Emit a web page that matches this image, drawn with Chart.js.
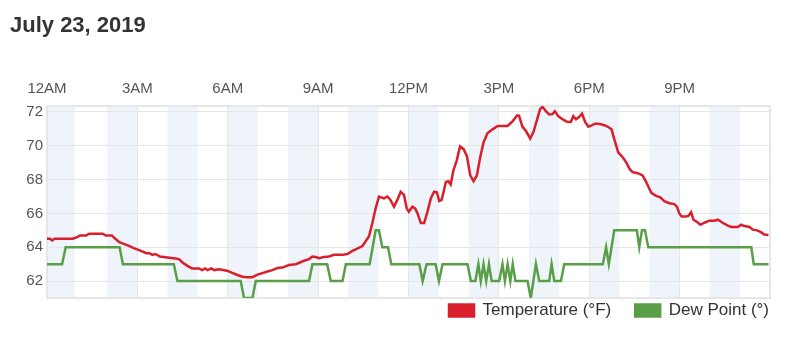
<!DOCTYPE html>
<html>
<head>
<meta charset="utf-8">
<script src="https://cdn.jsdelivr.net/npm/chart.js@4/dist/chart.umd.min.js"></script>
<style>
  html, body { margin: 0; padding: 0; background: #fff; }
  #wrap { position: relative; width: 793px; height: 355px; }
  #title { position: absolute; left: 10px; top: 14px; font: bold 22px "Liberation Sans", Arial, sans-serif; line-height: 22px; color: #333; }
  canvas { position: absolute; left: 0; top: 0; }
</style>
</head>
<body>
<div id="wrap">
  <canvas id="c" width="793" height="355"></canvas>
  <div id="title">July 23, 2019</div>
</div>
<script>
// ---- data (hours since midnight) ----
const seriesLabels = ['Temperature (°F)', 'Dew Point (°)'];
const hourTickLabels = ['12AM', '3AM', '6AM', '9AM', '12PM', '3PM', '6PM', '9PM', ''];

const tempHours = [0.00,0.10,0.17,0.25,0.50,0.85,1.00,1.10,1.30,1.40,1.85,1.95,2.15,2.27,2.40,2.55,2.70,2.88,3.10,3.30,3.40,3.50,3.60,3.75,4.00,4.20,4.38,4.50,4.66,4.82,5.04,5.15,5.25,5.33,5.45,5.55,5.70,5.85,6.00,6.15,6.32,6.49,6.65,6.82,6.99,7.15,7.32,7.48,7.65,7.81,8.03,8.26,8.53,8.70,8.81,8.92,9.03,9.19,9.36,9.53,9.81,9.97,10.14,10.30,10.47,10.58,10.69,10.80,10.91,11.02,11.19,11.30,11.40,11.52,11.63,11.74,11.85,11.94,12.01,12.13,12.22,12.30,12.41,12.52,12.63,12.74,12.85,12.94,13.02,13.10,13.18,13.24,13.32,13.40,13.49,13.60,13.71,13.83,13.94,14.05,14.16,14.27,14.38,14.49,14.62,14.79,14.96,15.29,15.46,15.60,15.67,15.78,15.90,16.04,16.15,16.26,16.37,16.45,16.56,16.67,16.78,16.86,16.97,17.12,17.28,17.39,17.47,17.56,17.66,17.76,17.86,17.97,18.08,18.22,18.39,18.52,18.63,18.74,18.83,18.96,19.11,19.22,19.35,19.44,19.61,19.77,19.88,19.99,20.07,20.22,20.36,20.49,20.66,20.82,20.91,20.99,21.07,21.21,21.29,21.38,21.46,21.58,21.69,21.82,21.99,22.15,22.27,22.43,22.60,22.71,22.93,23.04,23.15,23.32,23.43,23.57,23.70,23.81,23.95];
const tempValues = [64.5,64.5,64.4,64.5,64.5,64.5,64.6,64.7,64.7,64.8,64.8,64.7,64.7,64.5,64.3,64.2,64.1,63.95,63.8,63.65,63.65,63.55,63.6,63.45,63.4,63.35,63.3,63.1,62.9,62.75,62.75,62.65,62.75,62.65,62.75,62.65,62.7,62.65,62.6,62.48,62.36,62.26,62.23,62.23,62.38,62.47,62.57,62.65,62.77,62.8,62.95,63.0,63.2,63.3,63.45,63.42,63.35,63.42,63.45,63.55,63.55,63.6,63.78,63.92,64.07,64.36,64.65,65.43,66.3,66.99,66.89,67.0,66.8,66.4,66.8,67.28,67.1,66.3,66.1,66.4,66.3,66.0,65.43,65.43,66.11,66.89,67.28,67.25,66.73,66.8,67.38,67.86,67.9,67.71,68.54,69.12,69.96,69.8,69.38,68.25,67.9,68.25,69.32,70.19,70.74,70.97,71.17,71.17,71.46,71.79,71.78,71.13,70.87,70.43,70.82,71.5,72.18,72.3,72.04,71.85,71.87,72.04,71.75,71.56,71.4,71.42,71.75,71.56,71.7,71.9,71.42,71.13,71.2,71.32,71.27,71.2,71.11,70.97,70.39,69.61,69.32,69.03,68.6,68.44,68.38,68.25,67.9,67.47,67.2,67.04,66.95,66.73,66.6,66.55,66.4,66.0,65.82,65.82,65.85,66.07,65.63,65.49,65.33,65.45,65.57,65.57,65.63,65.45,65.28,65.2,65.2,65.33,65.25,65.2,65.04,65.0,64.89,64.75,64.72];

const dewHours = [0.00,0.50,0.62,2.41,2.52,4.21,4.33,6.43,6.54,6.82,6.93,8.70,8.81,9.30,9.42,9.81,9.92,10.71,10.91,11.02,11.13,11.32,11.43,12.36,12.47,12.60,12.90,13.01,13.13,13.96,14.07,14.22,14.32,14.40,14.49,14.58,14.67,14.76,15.01,15.12,15.20,15.29,15.38,15.46,15.55,15.95,16.06,16.23,16.34,16.67,16.75,16.84,17.06,17.17,18.45,18.56,18.65,18.83,19.58,19.66,19.75,19.85,19.96,23.38,23.46,23.95];
const dewValues = [63,63,64,64,63,63,62,62,61,61,62,62,63,63,62,62,63,63,65,65,64,64,63,63,62,63,63,62,63,63,62,62,63,62,63,62,63,62,62,63,62,63,62,63,62,62,61,63,62,62,63,62,62,63,63,64,63,65,65,64,65,65,64,64,63,63];

// shaded hour bands
const bandStarts = [0,2,4,6,8,10,12,14,16,18,20,22];
const bandEnds   = [0.92,3,5,7,9,11,13,15,17,19,21,23];

const yTickValues = [62,64,66,68,70,72];

const RED = '#d91f2c';
const GREEN = '#5a9e47';
const FONT = '"Liberation Sans", Arial, sans-serif';

const bandPlugin = {
  id: 'bands',
  beforeDraw(chart) {
    const {ctx, chartArea: a, scales: {x}} = chart;
    ctx.save();
    ctx.fillStyle = '#eef4fa';
    bandStarts.forEach((s, i) => {
      const x0 = x.getPixelForValue(s), x1 = x.getPixelForValue(bandEnds[i]);
      ctx.fillRect(x0, a.top, x1 - x0, a.bottom - a.top);
    });
    ctx.restore();
  },
  beforeDatasetsDraw(chart) {
    const {ctx, chartArea: a} = chart;
    ctx.save();
    ctx.strokeStyle = '#e6e6e6';
    ctx.lineWidth = 2;
    ctx.strokeRect(a.left, a.top, a.right - a.left, a.bottom - a.top);
    ctx.restore();
  },
  afterLayout(chart) {
    const lg = chart.legend;
    if (lg) { lg.top -= 20; lg.bottom -= 20; lg.left += 23; lg.right += 23; }
  }
};

const toPts = (xs, ys) => xs.map((h, i) => ({x: h, y: ys[i]}));

new Chart(document.getElementById('c'), {
  type: 'line',
  data: {
    datasets: [
      { label: seriesLabels[0], data: toPts(tempHours, tempValues), borderColor: RED, backgroundColor: RED, borderWidth: 2.5, pointRadius: 0, tension: 0, fill: false },
      { label: seriesLabels[1], data: toPts(dewHours, dewValues), borderColor: GREEN, backgroundColor: GREEN, borderWidth: 2.5, pointRadius: 0, tension: 0, fill: false }
    ]
  },
  options: {
    responsive: false,
    animation: false,
    devicePixelRatio: 1,
    layout: { padding: { top: 71, right: 23, left: 0, bottom: 6 } },
    scales: {
      x: {
        type: 'linear', position: 'top', min: 0, max: 24, bounds: 'data',
        grid: { color: '#e6e6e6', drawTicks: false, lineWidth: 1 },
        border: { display: true, color: '#e6e6e6', width: 2 },
        ticks: { stepSize: 3, padding: 8.5, color: '#555', font: { family: FONT, size: 15 },
          maxRotation: 0, autoSkip: false,
          callback: (v) => hourTickLabels[Math.round(v / 3)] }
      },
      y: {
        type: 'linear', min: 61, max: 72.35, bounds: 'data',
        afterFit: (s) => { s.width = 47; },
        afterBuildTicks: (s) => { s.ticks = yTickValues.map(v => ({ value: v })); },
        grid: { color: '#e6e6e6', drawTicks: false, lineWidth: 1 },
        border: { display: true, color: '#e6e6e6', width: 2 },
        ticks: { padding: 4, color: '#555', font: { family: FONT, size: 15 },
          callback: (v) => String(v) }
      }
    },
    plugins: {
      title: { display: false },
      tooltip: { enabled: false },
      legend: {
        position: 'bottom', align: 'end',
        labels: { boxWidth: 25, boxHeight: 12, padding: 24, color: '#333', font: { family: FONT, size: 17 } }
      }
    }
  },
  plugins: [bandPlugin]
});
</script>
</body>
</html>
